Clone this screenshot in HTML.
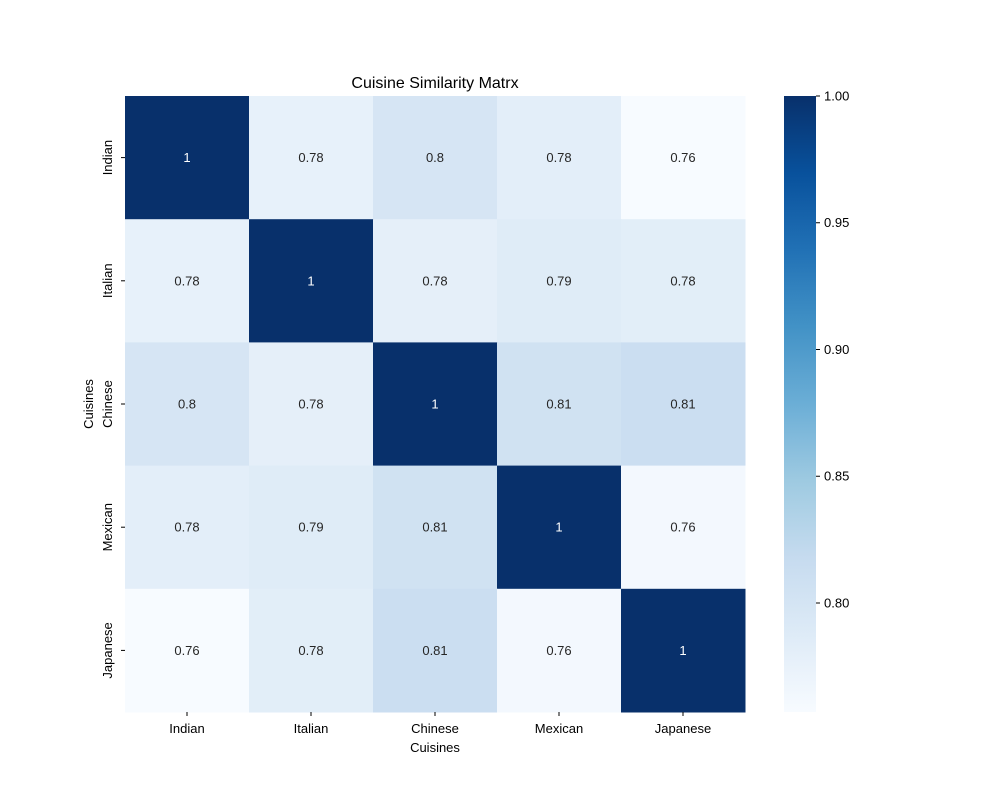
<!DOCTYPE html>
<html><head><meta charset="utf-8"><style>
body{margin:0;background:#fff;}
svg text{font-family:"Liberation Sans","DejaVu Sans",sans-serif;}
</style></head><body>
<svg id="chart" width="1000" height="800" xmlns="http://www.w3.org/2000/svg">
<rect width="1000" height="800" fill="#fff"/>
<text x="435" y="88" font-size="16" text-anchor="middle" fill="#000">Cuisine Similarity Matrx</text>
<g id="cells"></g>
<g id="xticks"></g>
<g id="yticks"></g>
<text x="435" y="752" font-size="13" text-anchor="middle">Cuisines</text>
<text transform="translate(93,404) rotate(-90)" font-size="13" text-anchor="middle">Cuisines</text>
<defs><linearGradient id="cbg" x1="0" y1="1" x2="0" y2="0"></linearGradient></defs>
<rect x="784" y="96" width="32" height="616" fill="url(#cbg)"/>
<g id="cbticks"></g>
</svg>
<script>
const categories=["Indian","Italian","Chinese","Mexican","Japanese"];
const values=[
[1,0.776,0.798,0.781,0.757],
[0.776,1,0.779,0.786,0.782],
[0.798,0.779,1,0.805,0.812],
[0.781,0.786,0.805,1,0.762],
[0.757,0.782,0.812,0.762,1]];
const cbTicks=[0.80,0.85,0.90,0.95,1.00];
const vmin=0.757,vmax=1.0;
const stops=["#f7fbff","#deebf7","#c6dbef","#9ecae1","#6baed6","#4292c6","#2171b5","#08519c","#08306b"];
const NS="http://www.w3.org/2000/svg";
const x0=125,y0=96,W=620,H=616,n=categories.length,cw=W/n,ch=H/n;
function hex(h){return [1,3,5].map(i=>parseInt(h.substr(i,2),16));}
function cmap(t){t=Math.max(0,Math.min(1,t));const p=t*8,i=Math.min(7,Math.floor(p)),f=p-i;const a=hex(stops[i]),b=hex(stops[i+1]);return `rgb(${a.map((v,k)=>Math.round(v+(b[k]-v)*f)).join(',')})`;}
function lum(t){t=Math.max(0,Math.min(1,t));const p=t*8,i=Math.min(7,Math.floor(p)),f=p-i;const a=hex(stops[i]),b=hex(stops[i+1]);const c=a.map((v,k)=>v+(b[k]-v)*f);return (0.299*c[0]+0.587*c[1]+0.114*c[2])/255;}
const norm=v=>(v-vmin)/(vmax-vmin);
const yScale=v=>y0+H-(v-vmin)/(vmax-vmin)*H;
function el(tag,attrs,parent){const e=document.createElementNS(NS,tag);for(const k in attrs)e.setAttribute(k,attrs[k]);parent.appendChild(e);return e;}
const cells=document.getElementById('cells');
values.forEach((row,r)=>row.forEach((v,c)=>{
 const rect=el('rect',{x:x0+c*cw,y:y0+r*ch,width:cw+0.5,height:ch+0.5,fill:cmap(norm(v))},cells);
 
 
 const t=el('text',{x:x0+(c+0.5)*cw,y:y0+(r+0.5)*ch+4.5,'font-size':13,'text-anchor':'middle',fill:lum(norm(v))<0.5?'#fff':'#262626'},cells);
 t.textContent=String(Number(v.toPrecision(2)));
 
 
}));
const xt=document.getElementById('xticks'),yt=document.getElementById('yticks');
categories.forEach((c,i)=>{
 const cx=x0+(i+0.5)*cw;
 el('line',{x1:cx,x2:cx,y1:y0+H,y2:y0+H+4,stroke:'#000'},xt);
 const t=el('text',{x:cx,y:y0+H+21,'font-size':13,'text-anchor':'middle'},xt);t.textContent=c;
 
 
 const cy=y0+(i+0.5)*ch;
 el('line',{x1:x0-4,x2:x0,y1:cy,y2:cy,stroke:'#000'},yt);
 const u=el('text',{transform:`translate(${x0-13},${cy}) rotate(-90)`,'font-size':13,'text-anchor':'middle'},yt);u.textContent=c;
 
 
});
const g=document.getElementById('cbg');
for(let i=0;i<=16;i++){el('stop',{offset:i/16,'stop-color':cmap(i/16)},g);}
const cbt=document.getElementById('cbticks');
cbTicks.forEach(v=>{
 const y=yScale(v);
 el('line',{x1:816,x2:820,y1:y,y2:y,stroke:'#000'},cbt);
 const t=el('text',{x:824,y:y+4.5,'font-size':13},cbt);t.textContent=v.toFixed(2);
 
 
});
</script>
</body></html>
